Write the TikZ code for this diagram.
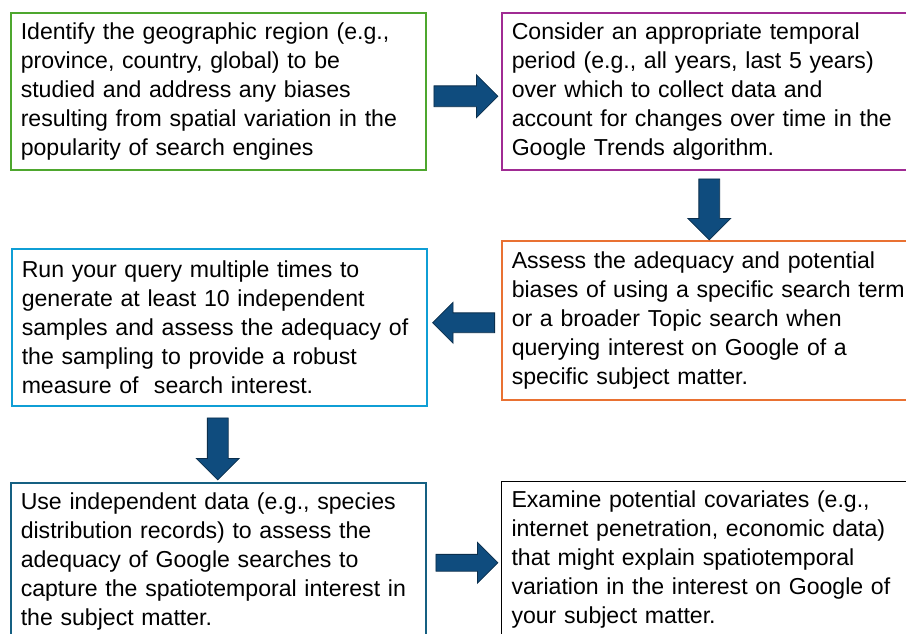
\documentclass[tikz,border=0pt]{standalone}
\usepackage{fontspec}
\setmainfont{Liberation Sans}
\usetikzlibrary{shapes.arrows}
\usetikzlibrary{calc}

\definecolor{regiongreen}{HTML}{4EA72E}
\definecolor{periodpurple}{HTML}{A02B93}
\definecolor{termorange}{HTML}{E97132}
\definecolor{querycyan}{HTML}{0F9ED5}
\definecolor{checkblue}{HTML}{156082}
\definecolor{arrowfill}{HTML}{0F4C7E}
\definecolor{arrowline}{HTML}{0A2E4C}

\tikzset{
  stepbox/.style={draw, line width=1.5pt, anchor=north west, text width=395pt,
    inner xsep=10pt, minimum height=157pt, align=left,
    font=\fontsize{23.1}{29}\selectfont},
  blockarrow/.style={single arrow, draw=arrowline, fill=arrowfill, line width=0.8pt,
    inner xsep=0pt, inner ysep=10pt, single arrow head extend=11pt,
    minimum height=62pt, anchor=tail}
}

\begin{document}
\begin{tikzpicture}[x=1pt,y=-1pt]
    \clip (0,0) rectangle (906,633);
    \node[stepbox, draw=regiongreen] (region) at (10,12) {Identify the geographic region (e.g.,\\ province, country, global) to be\\ studied and address any biases\\ resulting from spatial variation in the\\ popularity of search engines};
    \node[stepbox, draw=periodpurple] (period) at (501,12) {Consider an appropriate temporal\\ period (e.g., all years, last 5 years)\\ over which to collect data and\\ account for changes over time in the\\ Google Trends algorithm.};
    \node[stepbox, draw=termorange, minimum height=159pt] (term) at (501,240) {Assess the adequacy and potential\\ biases of using a specific search term\\ or a broader Topic search when\\ querying interest on Google of a\\ specific subject matter.};
    \node[stepbox, draw=querycyan] (query) at (11,248) {Run your query multiple times to\\ generate at least 10 independent\\ samples and assess the adequacy of\\ the sampling to provide a robust\\ measure of~ search interest.};
    \node[stepbox, draw=checkblue] (check) at (10,482) {Use independent data (e.g., species\\ distribution records) to assess the\\ adequacy of Google searches to\\ capture the spatiotemporal interest in\\ the subject matter.};
    \node[stepbox, draw=black, line width=1pt] (covar) at (501,481) {Examine potential covariates (e.g.,\\ internet penetration, economic data)\\ that might explain spatiotemporal\\ variation in the interest on Google of\\ your subject matter.};

    % arrows between the steps
    \node[blockarrow, minimum height=64pt] (a1) at ($(region.east)+(7,5)$) {};
    \node[blockarrow, rotate=-90, minimum height=61pt] (a2) at ($(period.south)+(0,8)$) {};
    \node[blockarrow, rotate=180, inner ysep=9.5pt, single arrow head extend=10.5pt] (a3) at ($(term.west)+(-6,2.5)$) {};
    \node[blockarrow, rotate=-90] (a4) at ($(query.south)+(-1.5,11)$) {};
    \node[blockarrow, inner ysep=8pt, single arrow head extend=12pt] (a5) at ($(check.east)+(9,1.5)$) {};
\end{tikzpicture}
\end{document}
